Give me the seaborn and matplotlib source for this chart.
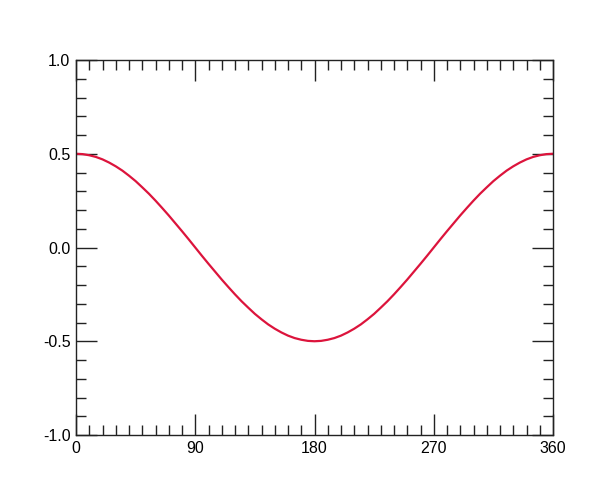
import numpy as np
import pandas as pd
import matplotlib
matplotlib.use("Agg")
import matplotlib.pyplot as plt
import seaborn as sns
from matplotlib.ticker import MultipleLocator

# Curve values every 5 degrees
angle = list(range(0, 361, 5))
value = [0.500, 0.498, 0.492, 0.483, 0.470, 0.453, 0.433, 0.410, 0.383, 0.354,
         0.321, 0.287, 0.250, 0.211, 0.171, 0.129, 0.087, 0.044, 0.000,
         -0.044, -0.087, -0.129, -0.171, -0.211, -0.250, -0.287, -0.321, -0.354,
         -0.383, -0.410, -0.433, -0.453, -0.470, -0.483, -0.492, -0.498, -0.500,
         -0.498, -0.492, -0.483, -0.470, -0.453, -0.433, -0.410, -0.383, -0.354,
         -0.321, -0.287, -0.250, -0.211, -0.171, -0.129, -0.087, -0.044, 0.000,
         0.044, 0.087, 0.129, 0.171, 0.211, 0.250, 0.287, 0.321, 0.354,
         0.383, 0.410, 0.433, 0.453, 0.470, 0.483, 0.492, 0.498, 0.500]

df = pd.DataFrame({"angle": angle, "value": value})

sns.set_style("white")
plt.rcParams["font.family"] = ["Liberation Sans", "DejaVu Sans"]

fig = plt.figure(figsize=(6.0, 4.99), dpi=100)
ax = fig.add_axes([76 / 600, 1 - 435 / 499, 477 / 600, 375 / 499])

sns.lineplot(data=df, x="angle", y="value", ax=ax, color="#dc143c", linewidth=1.6)

ax.set_xlim(0, 360)
ax.set_ylim(-1.0, 1.0)
ax.xaxis.set_major_locator(MultipleLocator(90))
ax.xaxis.set_minor_locator(MultipleLocator(10))
ax.yaxis.set_major_locator(MultipleLocator(0.5))
ax.yaxis.set_minor_locator(MultipleLocator(0.1))
ax.set_yticks([-1.0, -0.5, 0.0, 0.5, 1.0])
ax.set_yticklabels(["-1.0", "-0.5", "0.0", "0.5", "1.0"])
ax.set_xlabel("")
ax.set_ylabel("")

for s in ax.spines.values():
    s.set_color("#222222")
    s.set_linewidth(1.0)

ax.tick_params(which="both", direction="in", top=True, right=True,
               bottom=True, left=True,
               colors="#222222", labelcolor="black", labelsize=11.5)
ax.tick_params(which="major", length=15, width=1.0, pad=4)
ax.tick_params(which="minor", length=7, width=1.0)

fig.savefig("out.png", dpi=100)
